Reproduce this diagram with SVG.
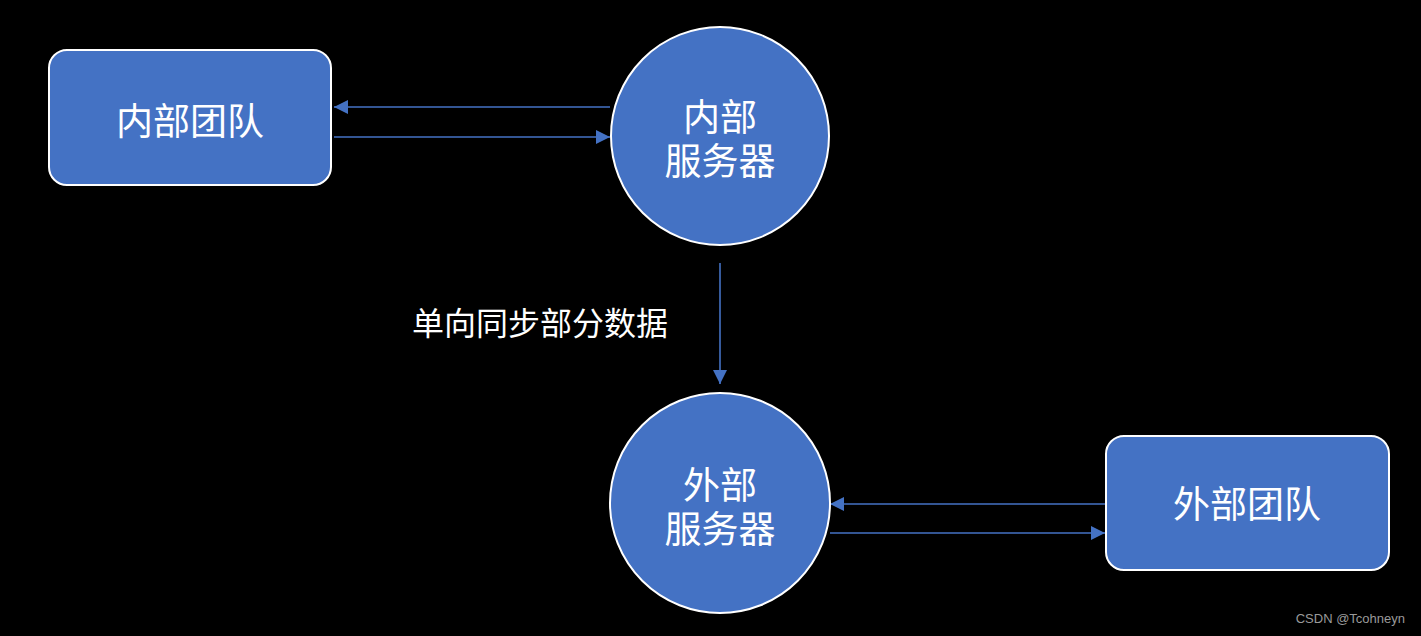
<svg xmlns="http://www.w3.org/2000/svg" width="1421" height="636" viewBox="0 0 1421 636">
<style>
.node{fill:#4472C4;stroke:#ffffff;stroke-width:2}
.lbl{fill:#ffffff;font-family:"Noto Sans CJK SC","Noto Sans",sans-serif;font-size:37px;text-anchor:middle;dominant-baseline:central}
.edge{stroke:#4472C4;stroke-width:1.6;fill:none;marker-end:url(#ah)}
</style>
<defs>
<marker id="ah" viewBox="0 0 10 10" refX="10" refY="5" markerWidth="14" markerHeight="14" markerUnits="userSpaceOnUse" orient="auto">
<path d="M0,0 L10,5 L0,10 z" fill="#4472C4"/>
</marker>
</defs>
<rect width="1421" height="636" fill="#000000"/>
<g id="connectors">
<line class="edge" x1="610" y1="107" x2="334" y2="107"/>
<line class="edge" x1="334" y1="137" x2="610" y2="137"/>
<line class="edge" x1="720" y1="263" x2="720" y2="384"/>
<line class="edge" x1="1105" y1="504" x2="830" y2="504"/>
<line class="edge" x1="830" y1="533" x2="1105" y2="533"/>
<text x="540" y="321" fill="#ffffff" font-family="Noto Sans CJK SC, Noto Sans, sans-serif" font-size="32" text-anchor="middle" dominant-baseline="central">单向同步部分数据</text>
</g>
<g id="internal-team">
<rect class="node" x="49" y="50" width="282" height="135" rx="18"/>
<text class="lbl" x="190" y="119">内部团队</text>
</g>
<g id="internal-server">
<circle class="node" cx="720" cy="136" r="109"/>
<text class="lbl" x="720" y="115"><tspan x="720" y="115">内部</tspan><tspan x="720" y="159">服务器</tspan></text>
</g>
<g id="external-server">
<circle class="node" cx="720" cy="503" r="110"/>
<text class="lbl" x="720" y="483"><tspan x="720" y="483">外部</tspan><tspan x="720" y="527">服务器</tspan></text>
</g>
<g id="external-team">
<rect class="node" x="1106" y="436" width="283" height="134" rx="18"/>
<text class="lbl" x="1247" y="502">外部团队</text>
</g>
<text x="1405" y="618" fill="#9a9a9a" font-family="Liberation Sans, Arial, sans-serif" font-size="13" text-anchor="end" dominant-baseline="central">CSDN @Tcohneyn</text>
</svg>
